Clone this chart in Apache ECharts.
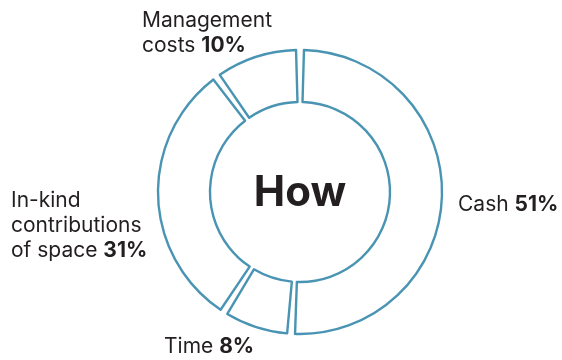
<!DOCTYPE html>
<html>
<head>
<meta charset="utf-8">
<script src="https://cdn.jsdelivr.net/npm/echarts@6/dist/echarts.min.js"></script>
<style>
html,body{margin:0;padding:0;background:#fff;}
#chart{width:562px;height:360px;}
</style>
</head>
<body>
<div id="chart"></div>
<script>
const categories = ['Cash', 'Time', 'In-kind\ncontributions\nof space', 'Management\ncosts'];
const values = [51, 8, 31, 10];
const centerTitle = 'How';

const labelPos = [
  {x: 458, y: 205},
  {x: 164, y: 347},
  {x: 11, y: 226},
  {x: 142, y: 33}
];

const chart = echarts.init(document.getElementById('chart'), null, {renderer: 'canvas'});
const FS = 21;
const LH = 25;
const option = {
  animation: false,
  backgroundColor: '#fff',
  textStyle: {fontFamily: 'Inter'},
  graphic: [{
    type: 'text',
    x: 300, y: 193,
    style: {
      text: centerTitle,
      fontFamily: 'Inter',
      fontWeight: 'bold',
      fontSize: 42,
      fill: '#231f20',
      align: 'center',
      verticalAlign: 'middle'
    }
  }],
  series: [{
    type: 'pie',
    center: [300, 192],
    radius: [90, 142],
    startAngle: 90,
    clockwise: true,
    padAngle: 3.2,
    silent: true,
    itemStyle: {color: '#fff', borderColor: '#4a94b3', borderWidth: 2.4},
    emphasis: {disabled: true},
    labelLine: {show: false},
    label: {
      show: true,
      position: 'outside',
      alignTo: 'none',
      overflow: 'none',
      color: '#231f20',
      fontFamily: 'Inter',
      fontSize: FS,
      lineHeight: LH,
      formatter: function (p) {
        const lines = p.name.split('\n');
        return lines.map(function (l, i) {
          return '{n|' + l + '}' + (i === lines.length - 1 ? ' {b|' + p.value + '%}' : '');
        }).join('\n');
      },
      rich: {
        n: {fontFamily: 'Inter', fontSize: FS, lineHeight: LH, color: '#231f20'},
        b: {fontFamily: 'Inter', fontSize: FS, lineHeight: LH, fontWeight: 'bold', color: '#231f20'}
      }
    },
    labelLayout: function (params) {
      const p = labelPos[params.dataIndex];
      return {x: p.x, y: p.y, align: 'left', verticalAlign: 'middle', hideOverlap: false, width: 300};
    },
    data: categories.map(function (c, i) { return {name: c, value: values[i]}; })
  }]
};
chart.setOption(option);
</script>
</body>
</html>
